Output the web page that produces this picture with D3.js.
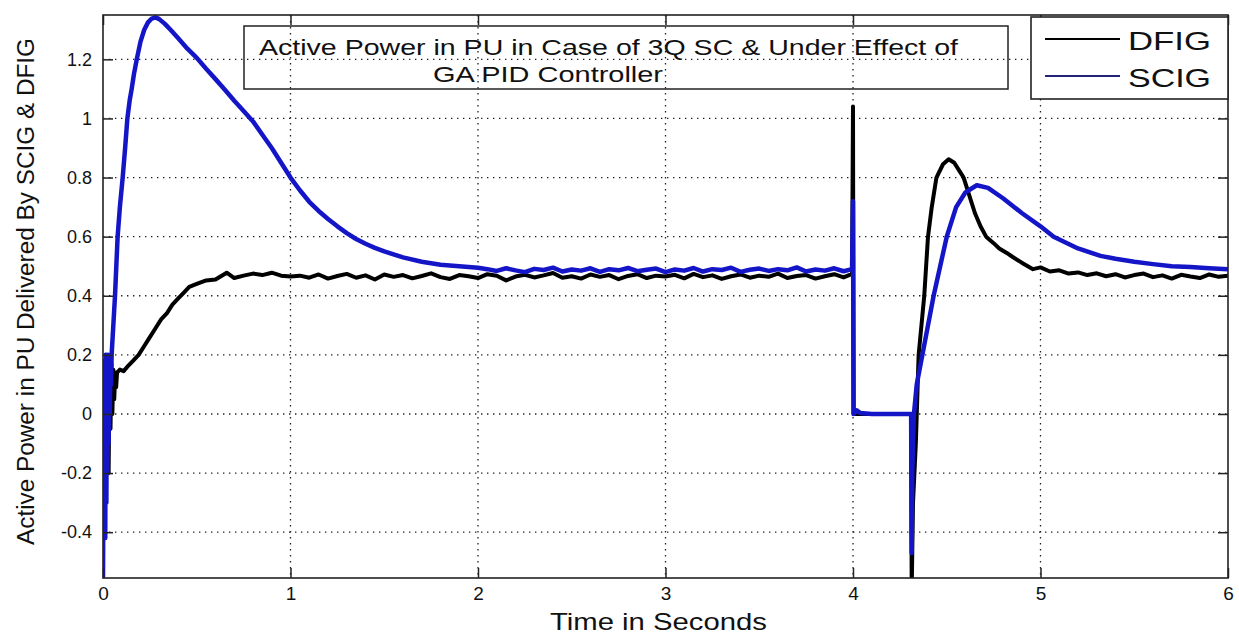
<!DOCTYPE html>
<html>
<head>
<meta charset="utf-8">
<script src="https://cdn.jsdelivr.net/npm/d3@7/dist/d3.min.js"></script>
<style>
  html, body { margin: 0; padding: 0; background: #fff; }
  svg { display: block; }
  text { font-family: "Liberation Sans", Arial, sans-serif; fill: #111; }
</style>
</head>
<body>
<svg id="chart" width="1239" height="635"></svg>
<script>
// ---------------- data ----------------
const seriesNames = ["DFIG", "SCIG"];
const xTicks = [0, 1, 2, 3, 4, 5, 6];
const xTickLabels = ["0", "1", "2", "3", "4", "5", "6"];
const yTicks = [-0.4, -0.2, 0, 0.2, 0.4, 0.6, 0.8, 1, 1.2];
const yTickLabels = ["-0.4", "-0.2", "0", "0.2", "0.4", "0.6", "0.8", "1", "1.2"];
const titleLines = ["Active Power in PU in Case of 3Q SC & Under Effect of", "GA PID Controller"];
const xLabel = "Time in Seconds";
const yLabel = "Active Power in PU Delivered By SCIG & DFIG";

// DFIG active power [time s, power pu]
const dfigPower = [
  [0,-0.6],[0.002,0.15],[0.005,-0.22],[0.008,0.18],[0.012,-0.25],[0.016,0.2],[0.02,-0.12],[0.025,0.16],
  [0.03,-0.2],[0.035,0.15],[0.04,-0.05],[0.045,0.17],[0.05,0.0],[0.055,0.15],[0.06,0.05],[0.065,0.14],
  [0.07,0.09],[0.075,0.14],[0.09,0.15],[0.11,0.145],[0.13,0.16],[0.16,0.18],[0.19,0.2],[0.22,0.23],
  [0.25,0.26],[0.28,0.29],[0.31,0.32],[0.34,0.34],[0.37,0.37],[0.4,0.39],[0.43,0.41],[0.46,0.43],
  [0.5,0.44],[0.55,0.452],[0.6,0.455],[0.66,0.478],[0.7,0.46],[0.75,0.468],[0.8,0.475],[0.85,0.47],
  [0.9,0.478],[0.95,0.468],[1.0,0.465],
  [1.05,0.468],[1.1,0.461],[1.15,0.472],[1.2,0.458],[1.25,0.467],[1.3,0.474],[1.35,0.461],[1.4,0.469],
  [1.45,0.455],[1.5,0.472],[1.55,0.464],[1.6,0.47],[1.65,0.459],[1.7,0.467],[1.75,0.476],[1.8,0.463],
  [1.85,0.457],[1.9,0.47],[1.95,0.466],[2.0,0.46],[2.05,0.473],[2.1,0.468],[2.15,0.452],[2.2,0.465],
  [2.25,0.471],[2.3,0.462],[2.35,0.469],[2.4,0.477],[2.45,0.461],[2.5,0.466],[2.55,0.458],[2.6,0.472],
  [2.65,0.464],[2.7,0.47],[2.75,0.456],[2.8,0.467],[2.85,0.473],[2.9,0.46],[2.95,0.468],[3.0,0.465],
  [3.05,0.471],[3.1,0.459],[3.15,0.474],[3.2,0.463],[3.25,0.469],[3.3,0.457],[3.35,0.466],[3.4,0.472],
  [3.45,0.461],[3.5,0.468],[3.55,0.464],[3.6,0.475],[3.65,0.46],[3.7,0.467],[3.75,0.47],[3.8,0.458],
  [3.85,0.466],[3.9,0.473],[3.95,0.462],
  [3.995,0.474],[4.0,1.04],[4.003,0.0],[4.31,0.0],
  [4.313,-0.6],[4.32,-0.3],[4.335,-0.1],[4.345,0.1],[4.35,0.2],[4.365,0.3],[4.38,0.4],[4.39,0.5],
  [4.4,0.6],[4.42,0.7],[4.445,0.8],[4.48,0.845],[4.51,0.862],[4.54,0.85],[4.57,0.82],[4.59,0.8],
  [4.61,0.76],[4.65,0.68],[4.68,0.635],[4.71,0.6],[4.75,0.578],[4.78,0.56],[4.82,0.545],[4.85,0.532],
  [4.9,0.512],[4.96,0.49],[5.0,0.496],[5.05,0.482],[5.1,0.486],[5.15,0.475],[5.2,0.479],[5.25,0.47],
  [5.3,0.476],[5.35,0.466],[5.4,0.473],[5.45,0.462],[5.5,0.47],[5.55,0.475],[5.6,0.463],[5.65,0.469],
  [5.7,0.458],[5.75,0.471],[5.8,0.465],[5.85,0.46],[5.9,0.472],[5.95,0.464],[6.0,0.468]
];

// SCIG active power [time s, power pu]
const scigPower = [
  [0,-0.55],[0.003,0.12],[0.006,-0.35],[0.009,0.18],[0.012,-0.42],[0.015,0.2],[0.018,-0.3],[0.021,0.15],
  [0.024,-0.2],[0.027,0.2],[0.03,-0.1],[0.033,0.18],[0.036,0.0],[0.04,0.19],[0.043,0.1],[0.046,0.2],
  [0.055,0.3],[0.064,0.4],[0.071,0.5],[0.078,0.6],[0.09,0.7],[0.105,0.8],[0.118,0.9],[0.13,1.0],
  [0.142,1.06],[0.153,1.1],[0.165,1.15],[0.18,1.2],[0.2,1.26],[0.22,1.3],[0.24,1.325],[0.26,1.338],
  [0.28,1.342],[0.3,1.336],[0.33,1.32],[0.36,1.3],[0.4,1.272],[0.45,1.236],[0.5,1.205],[0.55,1.168],
  [0.6,1.133],[0.65,1.097],[0.7,1.06],[0.75,1.025],[0.8,0.99],[0.85,0.945],[0.9,0.9],[0.95,0.85],
  [1.0,0.8],[1.05,0.757],[1.1,0.718],[1.15,0.687],[1.2,0.66],[1.25,0.635],[1.3,0.612],[1.35,0.592],
  [1.4,0.576],[1.45,0.562],[1.5,0.55],[1.6,0.53],[1.7,0.515],[1.8,0.505],[1.9,0.5],[2.0,0.495],
  [2.05,0.49],[2.1,0.484],[2.15,0.493],[2.2,0.486],[2.25,0.48],[2.3,0.491],[2.35,0.487],[2.4,0.495],
  [2.45,0.482],[2.5,0.489],[2.55,0.485],[2.6,0.493],[2.65,0.481],[2.7,0.49],[2.75,0.486],[2.8,0.494],
  [2.85,0.483],[2.9,0.488],[2.95,0.492],[3.0,0.48],[3.05,0.489],[3.1,0.485],[3.15,0.494],[3.2,0.482],
  [3.25,0.49],[3.3,0.487],[3.35,0.495],[3.4,0.481],[3.45,0.488],[3.5,0.492],[3.55,0.484],[3.6,0.49],
  [3.65,0.486],[3.7,0.496],[3.75,0.482],[3.8,0.489],[3.85,0.485],[3.9,0.493],[3.95,0.483],
  [3.995,0.49],[4.0,0.72],[4.003,0.0],[4.02,0.012],[4.04,0.003],[4.1,0.0],[4.31,0.0],
  [4.313,-0.47],[4.316,-0.2],[4.32,-0.1],[4.325,0.0],[4.34,0.1],[4.37,0.2],[4.4,0.3],[4.43,0.4],
  [4.465,0.5],[4.5,0.6],[4.55,0.7],[4.6,0.75],[4.66,0.774],[4.72,0.765],[4.8,0.73],[4.9,0.68],
  [5.0,0.635],[5.07,0.6],[5.2,0.56],[5.32,0.535],[5.4,0.525],[5.5,0.515],[5.6,0.507],[5.7,0.5],
  [5.8,0.497],[5.9,0.493],[6.0,0.49]
];

// ---------------- chart ----------------
const svg = d3.select("#chart");
const L = 103, R = 1228, T = 15, B = 578;
const x = d3.scaleLinear().domain([0, 6]).range([L, R]);
const y = d3.scaleLinear().domain([-0.555, 1.35]).range([B, T]);

// grid
const grid = svg.append("g").attr("stroke", "#222").attr("stroke-width", 1.3)
  .attr("stroke-dasharray", "1.4,4.6");
grid.selectAll("line.gx").data(xTicks.slice(1, -1)).join("line")
  .attr("x1", d => x(d)).attr("x2", d => x(d)).attr("y1", T).attr("y2", B);
grid.selectAll("line.gy").data(yTicks).join("line")
  .attr("y1", d => y(d)).attr("y2", d => y(d)).attr("x1", L).attr("x2", R);

// lines
svg.append("clipPath").attr("id", "plotclip").append("rect")
  .attr("x", L).attr("y", T).attr("width", R - L).attr("height", B - T);
const line = d3.line().x(d => x(d[0])).y(d => y(d[1]));
const lines = svg.append("g").attr("clip-path", "url(#plotclip)")
  .attr("fill", "none").attr("stroke-linejoin", "round").attr("stroke-linecap", "round");
lines.append("path").datum(dfigPower).attr("d", line)
  .attr("stroke", "#000").attr("stroke-width", 4);
lines.append("path").datum(scigPower).attr("d", line)
  .attr("stroke", "#1515c8").attr("stroke-width", 4.5);

// axes (ticks inside, all four sides)
const fmtX = (d, i) => xTickLabels[i];
const fmtY = (d, i) => yTickLabels[i];
const axB = svg.append("g").attr("transform", `translate(0,${B})`)
  .call(d3.axisBottom(x).tickValues(xTicks).tickFormat(fmtX).tickSizeInner(-10).tickSizeOuter(0).tickPadding(9));
const axL = svg.append("g").attr("transform", `translate(${L},0)`)
  .call(d3.axisLeft(y).tickValues(yTicks).tickFormat(fmtY).tickSizeInner(-10).tickSizeOuter(0).tickPadding(11));
const axT = svg.append("g").attr("transform", `translate(0,${T})`)
  .call(d3.axisTop(x).tickValues(xTicks).tickFormat("").tickSizeInner(-10).tickSizeOuter(0));
const axR = svg.append("g").attr("transform", `translate(${R},0)`)
  .call(d3.axisRight(y).tickValues(yTicks).tickFormat("").tickSizeInner(-10).tickSizeOuter(0));
[axB, axL, axT, axR].forEach(a => {
  a.select(".domain").remove();
  a.selectAll(".tick line").attr("stroke", "#222").attr("stroke-width", 1.5);
});
axB.selectAll(".tick text").attr("font-size", 19).attr("fill", "#222")
  .style("font-family", "'Liberation Sans', Arial, sans-serif");
axL.selectAll(".tick text").attr("font-size", 18).attr("fill", "#222")
  .style("font-family", "'Liberation Sans', Arial, sans-serif");

// frame
svg.append("rect").attr("x", L).attr("y", T).attr("width", R - L).attr("height", B - T)
  .attr("fill", "none").attr("stroke", "#222").attr("stroke-width", 1.6);

// title box (transparent so grid shows through)
svg.append("rect").attr("x", 244).attr("y", 26).attr("width", 764).attr("height", 63)
  .attr("fill", "none").attr("stroke", "#222").attr("stroke-width", 1.5);
svg.append("text").attr("x", 259).attr("y", 55).attr("font-size", 22)
  .attr("textLength", 699).attr("lengthAdjust", "spacingAndGlyphs").text(titleLines[0]);
svg.append("text").attr("x", 433).attr("y", 82).attr("font-size", 22)
  .attr("textLength", 230).attr("lengthAdjust", "spacingAndGlyphs").text(titleLines[1]);

// axis labels
svg.append("text").attr("x", 550).attr("y", 630).attr("font-size", 24)
  .attr("textLength", 217).attr("lengthAdjust", "spacingAndGlyphs").text(xLabel);
svg.append("text").attr("transform", "translate(34,545) rotate(-90)").attr("font-size", 23)
  .attr("textLength", 507).attr("lengthAdjust", "spacingAndGlyphs").text(yLabel);

// legend
const lg = svg.append("g");
lg.append("rect").attr("x", 1031).attr("y", 17).attr("width", 197).attr("height", 82)
  .attr("fill", "#fff").attr("stroke", "#222").attr("stroke-width", 1.6);
const legendColors = ["#000", "#23237a"];
const legendY = [39, 76];
seriesNames.forEach((name, i) => {
  lg.append("line").attr("x1", 1045).attr("x2", 1120).attr("y1", legendY[i]).attr("y2", legendY[i])
    .attr("stroke", legendColors[i]).attr("stroke-width", 2.2);
  lg.append("text").attr("x", 1128).attr("y", legendY[i] + 11).attr("font-size", 26)
    .attr("textLength", 83).attr("lengthAdjust", "spacingAndGlyphs").text(name);
});
</script>
</body>
</html>
